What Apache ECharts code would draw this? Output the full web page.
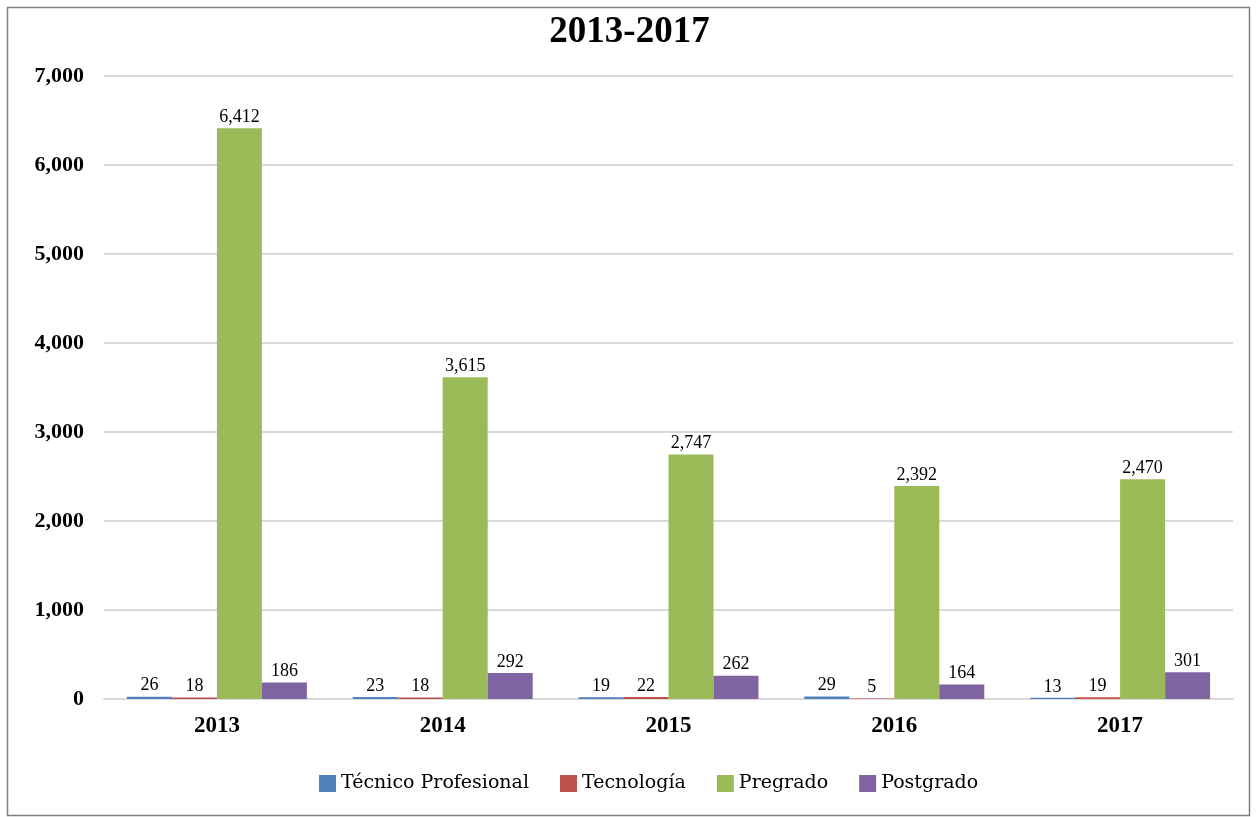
<!DOCTYPE html>
<html>
<head>
<meta charset="utf-8">
<script src="https://cdn.jsdelivr.net/npm/echarts@6/dist/echarts.min.js"></script>
<style>
  html, body { margin: 0; padding: 0; background: #fff; }
  #chart { width: 1259px; height: 817px; }
</style>
</head>
<body>
<div id="chart"></div>
<script>
// años
const years = ['2013', '2014', '2015', '2016', '2017'];
// series por nivel de formación
const tecnicoProfesional = [26, 23, 19, 29, 13];
const tecnologia = [18, 18, 22, 5, 19];
const pregrado = [6412, 3615, 2747, 2392, 2470];
const postgrado = [186, 292, 262, 164, 301];

const serif = '"Liberation Serif", "DejaVu Serif", serif';
const slab = '"DejaVu Serif", "Liberation Serif", serif';

const chart = echarts.init(document.getElementById('chart'), null, { renderer: 'canvas' });

function bar(name, data, color) {
  return {
    name: name,
    type: 'bar',
    data: data,
    barWidth: 45,
    barGap: '0%',
    itemStyle: { color: color },
    label: {
      show: true,
      position: 'top',
      distance: 2,
      color: '#000',
      fontFamily: serif,
      fontSize: 18,
      formatter: p => p.value.toLocaleString('en-US')
    }
  };
}

chart.setOption({
  animation: false,
  title: {
    text: '2013-2017',
    left: 'center',
    top: 9,
    textStyle: { fontFamily: serif, fontSize: 37, fontWeight: 'bold', color: '#000' }
  },
  graphic: [{
    type: 'rect',
    shape: { x: 7.5, y: 7.5, width: 1242, height: 808 },
    style: { fill: 'none', stroke: '#7f7f7f', lineWidth: 1.5 },
    silent: true
  }],
  legend: {
    bottom: 19,
    left: 314,
    itemWidth: 17,
    itemHeight: 17,
    itemGap: 31,
    icon: 'rect',
    textStyle: { fontFamily: slab, fontSize: 19, color: '#000' },
    data: ['Técnico Profesional', 'Tecnología', 'Pregrado', 'Postgrado']
  },
  grid: { left: 104, right: 26, top: 76, bottom: 118 },
  xAxis: {
    type: 'category',
    data: years,
    axisTick: { show: false },
    axisLine: { lineStyle: { color: '#d9d9d9', width: 2 } },
    axisLabel: { fontFamily: serif, fontSize: 23, fontWeight: 'bold', color: '#000', margin: 16 }
  },
  yAxis: {
    type: 'value',
    min: 0,
    max: 7000,
    interval: 1000,
    axisLine: { show: false },
    axisTick: { show: false },
    splitLine: { lineStyle: { color: '#d9d9d9', width: 2 } },
    axisLabel: {
      fontFamily: serif, fontSize: 22, fontWeight: 'bold', color: '#000', margin: 20,
      formatter: v => v.toLocaleString('en-US')
    }
  },
  series: [
    bar('Técnico Profesional', tecnicoProfesional, '#4f81bd'),
    bar('Tecnología', tecnologia, '#c0504d'),
    bar('Pregrado', pregrado, '#9bbb59'),
    bar('Postgrado', postgrado, '#8064a2')
  ]
});
</script>
</body>
</html>
